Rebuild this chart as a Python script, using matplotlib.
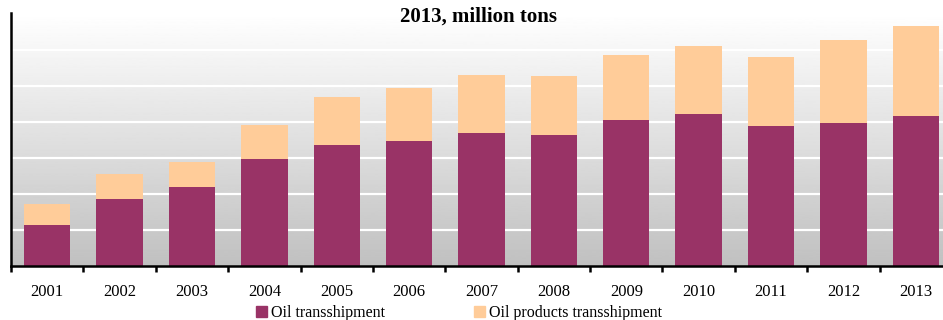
import matplotlib.pyplot as plt
import numpy as np
from matplotlib.patches import Patch

years = ["2001", "2002", "2003", "2004", "2005", "2006", "2007",
         "2008", "2009", "2010", "2011", "2012", "2013"]
oil = [11.4, 18.6, 21.9, 29.7, 33.6, 34.7, 36.9, 36.4, 40.6, 42.2, 38.9, 39.7, 41.7]
oil_products = [5.8, 7.0, 7.0, 9.5, 13.3, 14.7, 16.2, 16.4, 18.0, 18.9, 19.2, 23.1, 25.0]

plt.rcParams['font.family'] = ['Liberation Serif', 'DejaVu Serif']

fig = plt.figure(figsize=(9.43, 3.2), dpi=100)
ax = fig.add_axes([11 / 943, 54 / 320, 941 / 943, 253 / 320])

x = np.arange(len(years))
ymax = 70.3

# серый градиент фона
grad = np.linspace(1.0, 0.0, 256).reshape(-1, 1)
ax.imshow(grad, aspect='auto', cmap='gray', vmin=-3.05, vmax=1.0,
          extent=[-0.5, len(years) - 0.5, 0, ymax], origin='upper', zorder=0)

for yv in range(10, 70, 10):
    ax.axhline(yv, color='white', lw=1.6, zorder=1)

ax.bar(x, oil, width=0.64, color='#993366', zorder=2, label='Oil transshipment')
ax.bar(x, oil_products, width=0.64, bottom=oil, color='#FFCC99', zorder=2,
       label='Oil products transshipment')

ax.set_xlim(-0.5, len(years) - 0.5)
ax.set_ylim(0, ymax)
ax.set_yticks([])
ax.set_xticks(x)
ax.set_xticklabels(years, fontsize=12)
ax.set_xticks(np.arange(-0.5, len(years), 1), minor=True)
ax.tick_params(axis='x', which='major', length=0, pad=13)
ax.tick_params(axis='x', which='minor', length=4, width=1.8, color='black')
for s in ['top', 'right']:
    ax.spines[s].set_visible(False)
ax.spines['left'].set_linewidth(1.8)
ax.spines['bottom'].set_linewidth(1.8)

fig.text(478 / 943, 1 - 17 / 320, "2013, million tons", ha='center', va='center',
         fontsize=15, fontweight='bold')

handles = [Patch(color='#993366', label='Oil transshipment'),
           Patch(color='#FFCC99', label='Oil products transshipment')]
fig.legend(handles=handles, loc='center', bbox_to_anchor=(459 / 943, 1 - 313 / 320),
           ncol=2, frameon=False, fontsize=11.5, handlelength=0.7, handleheight=0.7,
           handletextpad=0.25, columnspacing=5.6, borderpad=0, borderaxespad=0)

fig.savefig("out.png", dpi=100)
